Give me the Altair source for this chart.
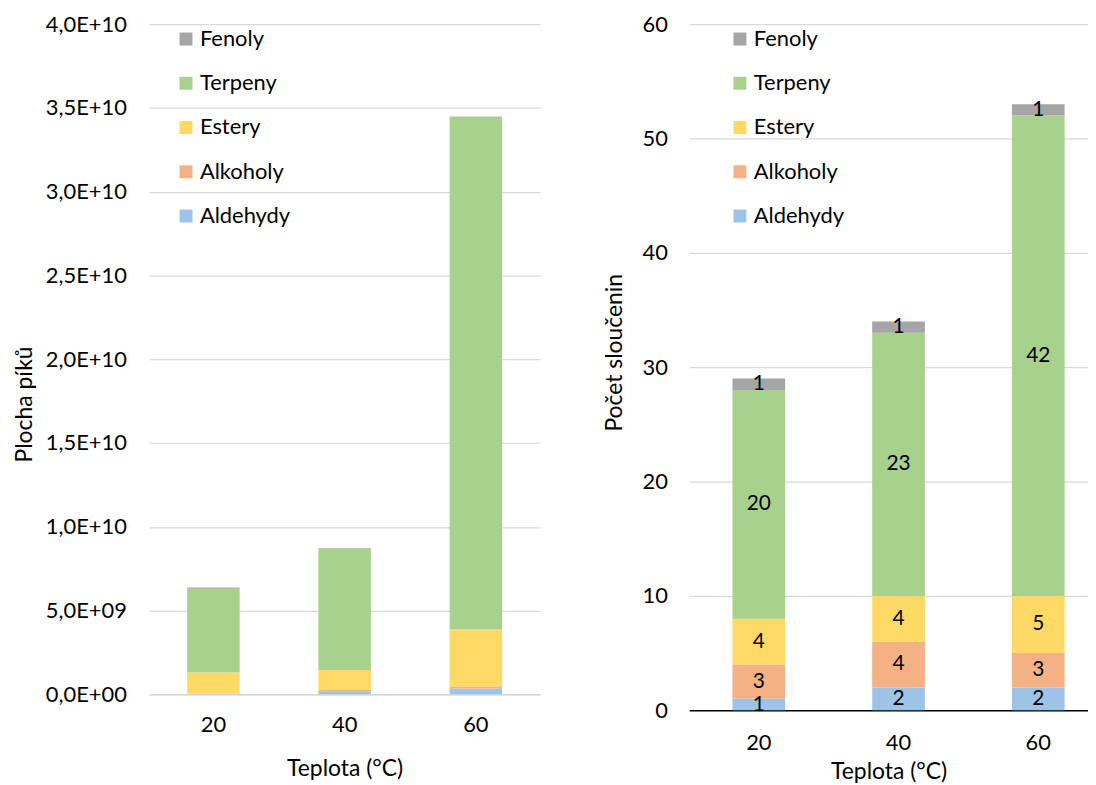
import altair as alt
import pandas as pd

temps = ["20", "40", "60"]
groups = ["Aldehydy", "Alkoholy", "Estery", "Terpeny", "Fenoly"]
legend_order = ["Fenoly", "Terpeny", "Estery", "Alkoholy", "Aldehydy"]
legend_colors = ["#A5A5A5", "#A9D18E", "#FFD966", "#F4B183", "#9DC3E6"]

# Plocha píků (peak area)
area_aldehydy = [0.02e9, 0.18e9, 0.35e9]
area_alkoholy = [0.02e9, 0.08e9, 0.12e9]
area_estery = [1.26e9, 1.19e9, 3.40e9]
area_terpeny = [5.00e9, 7.27e9, 30.60e9]
area_fenoly = [0.08e9, 0.01e9, 0.01e9]

# Počet sloučenin (number of compounds)
count_aldehydy = [1, 2, 2]
count_alkoholy = [3, 4, 3]
count_estery = [4, 4, 5]
count_terpeny = [20, 23, 42]
count_fenoly = [1, 1, 1]

left_ticks = [0, 5e9, 1e10, 1.5e10, 2e10, 2.5e10, 3e10, 3.5e10, 4e10]
left_tick_labels = ["0,0E+00", "5,0E+09", "1,0E+10", "1,5E+10", "2,0E+10",
                    "2,5E+10", "3,0E+10", "3,5E+10", "4,0E+10"]
right_ticks = [0, 10, 20, 30, 40, 50, 60]

area_series = [area_aldehydy, area_alkoholy, area_estery, area_terpeny, area_fenoly]
count_series = [count_aldehydy, count_alkoholy, count_estery, count_terpeny, count_fenoly]

rows_a, rows_c = [], []
for gi, g in enumerate(groups):
    for ti, t in enumerate(temps):
        rows_a.append({"temp": t, "group": g, "ord": gi, "value": area_series[gi][ti]})
        rows_c.append({"temp": t, "group": g, "ord": gi, "value": count_series[gi][ti]})
df_area = pd.DataFrame(rows_a)
df_count = pd.DataFrame(rows_c)

label_expr = " : ".join(
    f"datum.value == {v} ? '{s}'" for v, s in zip(left_ticks, left_tick_labels)
) + " : ''"

def legend(x):
    return alt.Legend(title=None, orient="none", legendX=x, legendY=4,
                      direction="vertical", symbolType="square", symbolSize=169,
                      symbolStrokeWidth=0, labelFontSize=22, rowPadding=22.5,
                      labelOffset=3, padding=0, labelColor="black")

left = alt.Chart(df_area).mark_bar().encode(
    x=alt.X("temp:N", sort=temps,
            scale=alt.Scale(paddingInner=0.6, paddingOuter=0.289, align=0.5),
            axis=alt.Axis(title="Teplota (°C)", labelAngle=0, ticks=False,
                          domainColor="#D9D9D9", domainWidth=1.5, labelPadding=20,
                          titlePadding=23, grid=False)),
    y=alt.Y("value:Q", stack="zero",
            scale=alt.Scale(domain=[0, 4e10], nice=False),
            axis=alt.Axis(title="Plocha píků", values=left_ticks, labelExpr=label_expr,
                          domain=False, ticks=False, labelPadding=23, titlePadding=9,
                          titleY=382)),
    color=alt.Color("group:N", scale=alt.Scale(domain=legend_order, range=legend_colors),
                    legend=legend(26)),
    order=alt.Order("ord:Q", sort="ascending"),
).properties(width=393, height=674)

base_r = alt.Chart(df_count).transform_stack(
    stack="value", groupby=["temp"], sort=[alt.SortField("ord", order="ascending")],
    as_=["lo", "hi"]
).transform_calculate(mid="(datum.lo + datum.hi) / 2")

xr = alt.X("temp:N", sort=temps,
           scale=alt.Scale(paddingInner=0.623, paddingOuter=0.2385, align=0.649),
           axis=alt.Axis(title="Teplota (°C)", labelAngle=0, ticks=False,
                         domainColor="black", domainWidth=1.5, labelPadding=22,
                         titlePadding=8, grid=False))

bars_r = base_r.mark_bar().encode(
    x=xr,
    y=alt.Y("lo:Q", scale=alt.Scale(domain=[0, 60], nice=False),
            axis=alt.Axis(title="Počet sloučenin", values=right_ticks, domain=False,
                          ticks=False, labelPadding=22, titlePadding=16, titleY=330)),
    y2="hi:Q",
    color=alt.Color("group:N", scale=alt.Scale(domain=legend_order, range=legend_colors),
                    legend=legend(40)),
)
text_r = base_r.mark_text(fontSize=21, color="black", baseline="middle", font="Lato").encode(
    x=xr,
    y=alt.Y("mid:Q"),
    text=alt.Text("value:Q"),
)
right = alt.layer(bars_r, text_r).properties(width=401, height=690)

chart = alt.hconcat(left, right, spacing=63).resolve_scale(
    color="independent"
).resolve_legend(color="independent").properties(
    padding={"left": 5, "top": 3, "right": 0, "bottom": 5}
).configure(font="Lato").configure_axis(
    labelFontSize=22, titleFontSize=23, titleFontWeight="normal",
    labelColor="black", titleColor="black", gridColor="#D9D9D9", gridWidth=1.2
).configure_view(stroke=None)

chart.save("out.html", embed_options={"renderer": "svg", "actions": False})
